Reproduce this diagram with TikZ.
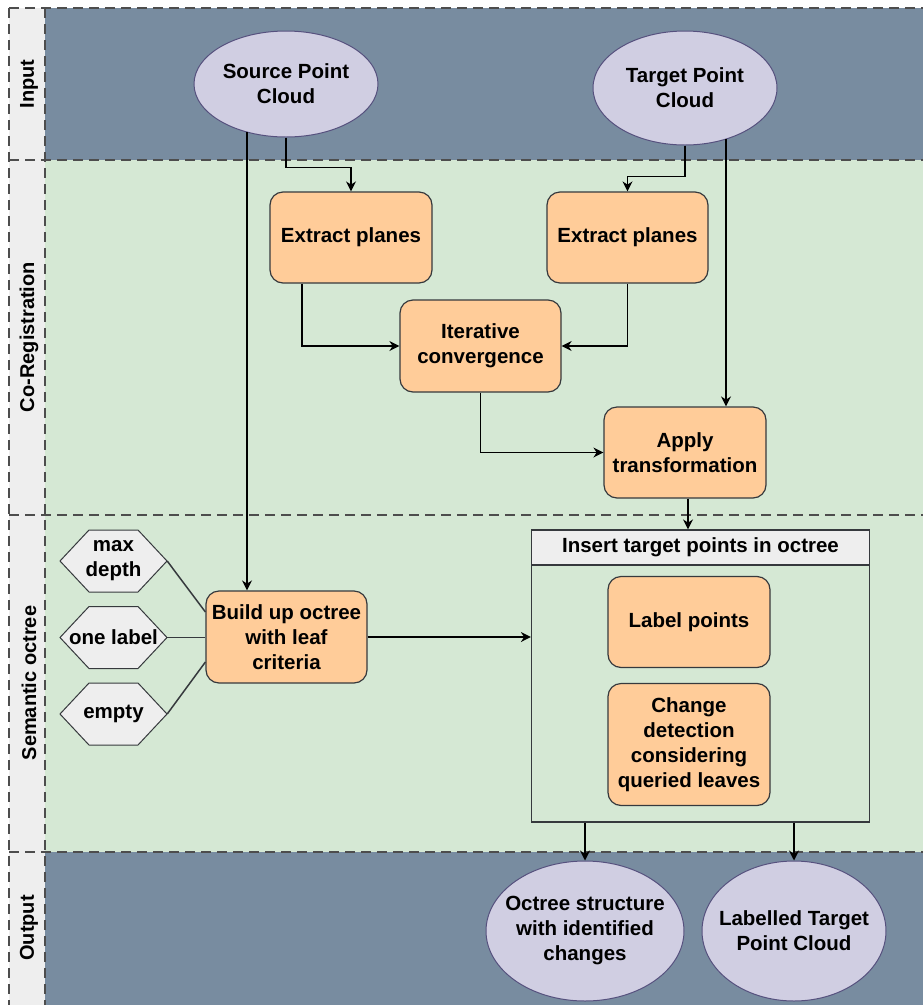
\documentclass[tikz,border=0pt]{standalone}
\usepackage{fontspec}
\setmainfont{Liberation Sans}
\usetikzlibrary{shapes.geometric,arrows.meta,calc}
\definecolor{lanec}{HTML}{788CA0}
\definecolor{greenc}{HTML}{D5E8D4}
\definecolor{labc}{HTML}{EEEEEE}
\definecolor{dashc}{HTML}{4D4D4D}
\definecolor{boxc}{HTML}{36393D}
\definecolor{orangec}{HTML}{FFCC99}
\definecolor{ellf}{HTML}{D0CEE2}
\definecolor{ellc}{HTML}{56517E}
\definecolor{hexc}{HTML}{EEEEEE}
\begin{document}
\begin{tikzpicture}[x=1pt,y=-1pt,
  font=\fontsize{20.5}{25}\selectfont\bfseries,
  lane/.style={draw=dashc, dash pattern=on 10pt off 6pt, line width=1.2pt},
  proc/.style={draw=boxc, fill=orangec, rounded corners=13pt, line width=1.2pt, align=center, inner sep=0pt},
  data/.style={ellipse, draw=ellc, fill=ellf, line width=1pt, align=center, inner xsep=-30pt, inner ysep=-10pt},
  crit/.style={minimum width=107pt, minimum height=62pt, inner sep=0pt, align=center},
  arr/.style={-{Stealth[length=10pt,width=10pt]}, line width=1.6pt},
  con/.style={line width=1.5pt, draw=boxc},
  lanelabel/.style={rotate=90, font=\fontsize{20}{24}\selectfont\bfseries}
]
\useasboundingbox (0,0) rectangle (923,1005);
\fill[white] (0,0) rectangle (923,1005);
% lanes
\fill[lanec] (45,8) rectangle (923,160);
\fill[greenc] (45,160) rectangle (923,852);
\fill[lanec] (45,852) rectangle (923,1005);
\fill[labc] (9,8) rectangle (45,1005);
\draw[lane] (9,8) -- (923,8);
\draw[lane] (9,160) -- (923,160);
\draw[lane] (9,515) -- (923,515);
\draw[lane] (9,852) -- (923,852);
\draw[lane] (9,8) -- (9,1005);
\draw[lane] (45,8) -- (45,1005);
\node[lanelabel] (lin) at (29,84) {Input};
\node[lanelabel] (lco) at (29,337) {Co-Registration};
\node[lanelabel] (lse) at (29,683) {Semantic octree};
\node[lanelabel] (lou) at (29,928) {Output};

% nodes
\node[data, minimum width=184pt, minimum height=106pt] (src) at (286,84) {Source Point\\Cloud};
\node[data, minimum width=184pt, minimum height=114pt] (tgt) at (685,88) {Target Point\\Cloud};
\node[proc, minimum width=162pt, minimum height=91pt] (ext1) at (351,237.5) {Extract planes};
\node[proc, minimum width=161pt, minimum height=91pt] (ext2) at (627.5,237.5) {Extract planes};
\node[proc, minimum width=161pt, minimum height=92pt] (iter) at (480.5,346) {Iterative\\convergence};
\node[proc, minimum width=162pt, minimum height=91pt] (apply) at (685,452.5) {Apply\\transformation};
\node[proc, minimum width=161pt, minimum height=92pt] (build) at (286.5,637) {Build up octree\\with leaf\\criteria};
\foreach \n/\y in {h1/561,h2/637.5,h3/714}{
  \path (113.5,\y) coordinate (\n c);
  \fill[hexc, draw=boxc, line width=1pt] ($(\n c)+(-53.5,0)$) -- ++(29,-31) -- ++(49,0) -- ++(29,31) -- ++(-29,31) -- ++(-49,0) -- cycle;
}
\node[crit] (h1) at (h1c) {max\\depth};
\node[crit] (h2) at (h2c) {one label};
\node[crit] (h3) at (h3c) {empty};
\node[draw=boxc, fill=greenc, line width=1.2pt, minimum width=338pt, minimum height=292pt, inner sep=0pt] (ins) at (700.5,676) {};
\node[draw=boxc, fill=labc, line width=1.2pt, minimum width=338pt, minimum height=35pt, inner sep=0pt] (insh) at (700.5,547.5) {Insert target points in octree};
\node[proc, minimum width=162pt, minimum height=91pt] (lab) at (689,622) {Label points};
\node[proc, minimum width=162pt, minimum height=122pt] (chg) at (689,744.5) {Change\\detection\\considering\\queried leaves};
\node[data, minimum width=198pt, minimum height=140pt] (out1) at (585,931) {Octree structure\\with identified\\changes};
\node[data, minimum width=184pt, minimum height=140pt] (out2) at (794,931) {Labelled Target\\Point Cloud};

% connectors
\coordinate (srcL) at ($(src.center)+(-39,48)$);
\coordinate (tgtR) at ($(tgt.center)+(41,51)$);
\draw[arr] (srcL) -- (srcL |- build.north);
\draw[arr] (src.south) |- ($(ext1.north)+(0,-24)$) -- (ext1.north);
\draw[arr] (tgt.south) |- ($(ext2.north)+(0,-15)$) -- (ext2.north);
\draw[arr] (tgtR) -- (tgtR |- apply.north);
\draw[arr] ([xshift=-49pt]ext1.south) |- (iter.west);
\draw[arr] (ext2.south) |- (iter.east);
\draw[arr] (iter.south) |- (apply.west);
\draw[arr] ([xshift=3pt]apply.south) -- ([xshift=3pt]apply.south |- insh.north);
\draw[arr] (build.east) -- (build.east -| ins.west);
\draw[con] (h1.east) -- ([yshift=25pt]build.west);
\draw[con] (h2.east) -- (h2.east -| build.west);
\draw[con] (h3.east) -- ([yshift=-25pt]build.west);
\draw[arr] (out1.north |- ins.south) -- (out1.north);
\draw[arr] (out2.north |- ins.south) -- (out2.north);
\end{tikzpicture}
\end{document}
